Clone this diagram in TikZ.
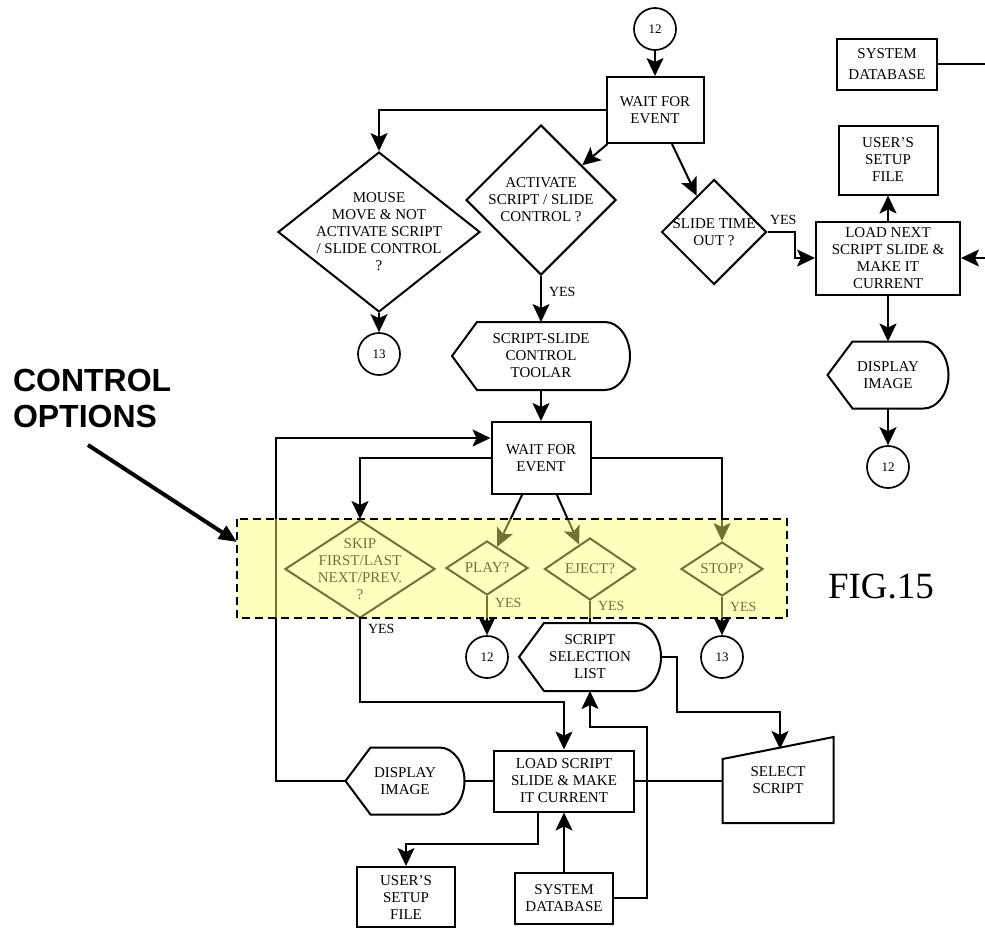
\documentclass[tikz,border=0pt]{standalone}
\usepackage{fontspec}
\setmainfont{Liberation Serif}
\newfontfamily\calloutfont{Liberation Sans}
\usetikzlibrary{arrows.meta,shapes.geometric}

\definecolor{hilite}{RGB}{255,255,110}

\tikzset{
  box/.style={draw, rectangle, align=center, inner sep=2pt},
  decision/.style={draw, diamond, align=center, inner sep=-30pt},
  conn/.style={draw, circle, minimum size=42pt, inner sep=0pt, line width=1.7pt, font=\fontsize{13}{14}\selectfont},
  display/.style={rectangle, align=center, inner sep=2pt},
  arr/.style={-{Stealth[length=18pt,width=17pt,inset=4pt]}},
  yes/.style={anchor=west, inner sep=0pt, font=\fontsize{14}{15}\selectfont},
}

% outline of a display symbol: point on the left, rounded on the right
\newcommand{\displayoutline}[1]{%
  \draw (#1.west) -- ([xshift=25pt]#1.north west) -- ([xshift=-25pt]#1.north east)
    .. controls +(14pt,0pt) and +(0pt,18pt) .. (#1.east)
    .. controls +(0pt,-18pt) and +(14pt,0pt) .. ([xshift=-25pt]#1.south east)
    -- ([xshift=25pt]#1.south west) -- cycle;}

\begin{document}
\begin{tikzpicture}[x=1pt, y=-1pt, line width=2pt, font=\fontsize{15}{17}\selectfont]
    \useasboundingbox (0,0) rectangle (985,930);

    % upper flow
    \node (c12top) [conn] at (655,29) {12};
    \node (wait1) [box, minimum width=97pt, minimum height=66pt] at (655,110) {WAIT FOR\\EVENT};
    \node (mouse) [decision, minimum width=202pt, minimum height=160pt] at (379,232) {MOUSE\\MOVE \& NOT\\ACTIVATE SCRIPT\\/ SLIDE CONTROL\\?};
    \node (c13left) [conn, below of=mouse, node distance=122pt] {13};
    \node (activate) [decision, minimum width=150pt, minimum height=150pt] at (541,200) {ACTIVATE\\SCRIPT / SLIDE\\CONTROL ?};
    \node (toolbar) [display, minimum width=176pt, minimum height=66pt] at (541,356) {SCRIPT-SLIDE\\CONTROL\\TOOLAR};
    \node (timeout) [decision, minimum width=105pt, minimum height=105pt] at (714,232) {SLIDE TIME\\OUT ?};

    % right column
    \node (sysdbtop) [box, minimum width=100pt, minimum height=51pt] at (887,64) {SYSTEM\\[4pt]DATABASE};
    \node (setuptop) [box, minimum width=99pt, minimum height=69pt] at (888,160) {USER'S\\SETUP\\FILE};
    \node (loadnext) [box, minimum width=144pt, minimum height=73pt] at (888,258) {LOAD NEXT\\SCRIPT SLIDE \&\\MAKE IT\\CURRENT};
    \node (dispnext) [display, minimum width=119pt, minimum height=65pt] at (888,375) {DISPLAY\\IMAGE};
    \node (c12right) [conn, below of=dispnext, node distance=92pt] {12};

    % lower flow
    \node (wait2) [box, minimum width=99pt, minimum height=72pt] at (541,458) {WAIT FOR\\EVENT};
    \node (skip) [decision, minimum width=150pt, minimum height=98pt] at (360,569) {SKIP\\FIRST/LAST\\NEXT/PREV.\\?};
    \node (play) [decision, minimum width=82pt, minimum height=54pt] at (487,568) {PLAY?};
    \node (eject) [decision, minimum width=91pt, minimum height=62pt] at (590,569) {EJECT?};
    \node (stop) [decision, minimum width=82pt, minimum height=54pt] at (722,569) {STOP?};
    \node (c12mid) [conn, below of=play, node distance=89pt] {12};
    \node (c13mid) [conn, below of=stop, node distance=88pt] {13};
    \node (sellist) [display, minimum width=140pt, minimum height=66pt] at (590,657) {SCRIPT\\SELECTION\\LIST};
    \node (select) [align=center, minimum width=109pt, minimum height=84pt] at (778,780) {SELECT\\SCRIPT};
    \node (load) [box, minimum width=140pt, minimum height=61pt] at (564,781) {LOAD SCRIPT\\SLIDE \& MAKE\\IT CURRENT};
    \node (dispimg) [display, minimum width=117pt, minimum height=65pt] at (405,781) {DISPLAY\\IMAGE};
    \node (setupbot) [box, minimum width=98pt, minimum height=60pt] at (406,897) {USER'S\\SETUP\\FILE};
    \node (sysdbbot) [box, minimum width=98pt, minimum height=51pt] at (564,898) {SYSTEM\\DATABASE};

    \node (figlabel) [font=\fontsize{37}{40}\selectfont] at (881,587) {FIG.15};
    \node (ctrl) [anchor=west, inner sep=0pt, align=left, font=\calloutfont\bfseries\fontsize{32}{36}\selectfont] at (12,398) {CONTROL\\OPTIONS};

    \displayoutline{toolbar}
    \displayoutline{dispnext}
    \displayoutline{sellist}
    \displayoutline{dispimg}
    \draw ([yshift=-22pt]select.north west) -- (select.north east) -- (select.south east) -- (select.south west) -- cycle;

    \coordinate (edgetop) at (985,64);
    \coordinate (edgeload) at (985,258);
    \coordinate (selin) at (780,749);
    \coordinate (ctrltail) at (88,445);
    \coordinate (ctrltip) at (237,542);

    % upper connectors
    \draw[arr] (c12top) -- (wait1);
    \draw[arr] (wait1.west) -| (mouse.north);
    \draw[arr] ([xshift=2pt]wait1.south west) -- (activate);
    \draw[arr] ([xshift=17pt]wait1.south) -- (timeout);
    \draw[arr] (mouse) -- (c13left);
    \draw[arr] (activate) -- (toolbar);
    \draw[arr] (toolbar) -- (wait2);
    \draw[arr] (timeout.east) -- ++(27,0) |- (loadnext.west);
    \draw[arr] (loadnext) -- (setuptop);
    \draw (sysdbtop.east) -- (edgetop);
    \draw[arr] (edgeload) -- (loadnext.east);
    \draw[arr] (loadnext) -- (dispnext);
    \draw[arr] (dispnext) -- (c12right);

    % lower connectors
    \draw[arr] (wait2.west) -| (skip.north);
    \draw[arr] (dispimg.west) -- ++(-70,0) |- ([yshift=20pt]wait2.west);
    \draw[arr] ([xshift=-19pt]wait2.south) -- (play);
    \draw[arr] ([xshift=16pt]wait2.south) -- (eject);
    \draw[arr] (wait2.east) -| (stop.north);
    \draw[arr] (skip.south) -- ++(0,83) -| (load.north);
    \draw[arr] (play) -- (c12mid);
    \draw (eject) -- (sellist);
    \draw[arr] (stop) -- (c13mid);
    \draw[arr] (sellist.east) -- ++(16,0) -- ++(0,55) -| (selin);
    \draw (load.east) -- (load.east -| select.west);
    \draw (dispimg.east) -- (dispimg.east -| load.west);
    \draw[arr] ([xshift=-26pt]load.south) -- ++(0,31) -| (setupbot.north);
    \draw[arr] (sysdbbot) -- (load);
    \draw[arr] (sysdbbot.east) -- ++(33,0) -- ++(0,-171) -| (sellist.south);

    \node (yes1) [yes] at (548,292) {YES};
    \node (yes2) [yes] at (769,220) {YES};
    \node (yes3) [yes] at (367,629) {YES};
    \node (yes4) [yes] at (494,603) {YES};
    \node (yes5) [yes] at (597,606) {YES};
    \node (yes6) [yes] at (729,607) {YES};

    % control options band
    \fill[hilite, fill opacity=0.45] (237,519) rectangle (787,618);
    \draw[dash pattern=on 8pt off 5pt] (237,519) rectangle (787,618);
    \draw[line width=4pt, -{Triangle[length=18pt,width=15pt]}] (ctrltail) -- (ctrltip);
\end{tikzpicture}
\end{document}
